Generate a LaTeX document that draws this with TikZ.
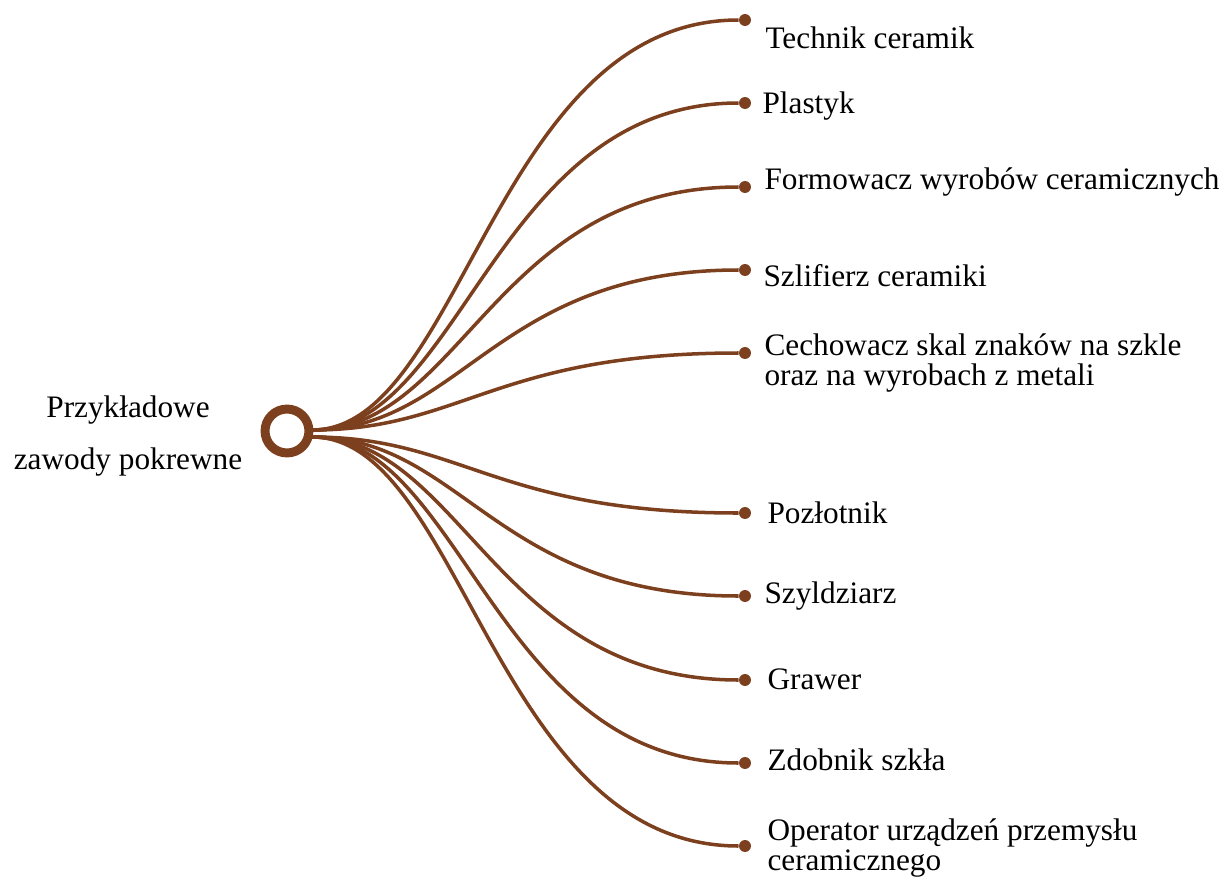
\documentclass[tikz,border=0pt]{standalone}
\usepackage{fontspec}
\setmainfont{Liberation Serif}
\usepackage{xcolor}
\definecolor{clay}{RGB}{125,64,30}
\usetikzlibrary{positioning}

\begin{document}
\begin{tikzpicture}[x=0.02cm,y=-0.02cm,semithick,
        font=\fontsize{17.8}{17.6}\selectfont]
        \tikzstyle{branch}=[draw=clay,line width=2pt]
        \tikzstyle{dot}=[circle,fill=clay,inner sep=0pt,minimum size=6.8pt]
        \tikzstyle{hub}=[circle,draw=clay,line width=5.1pt,inner sep=0pt,minimum size=25pt]
        \tikzstyle{job}=[anchor=west,inner sep=0pt,align=left,text=black]

        \useasboundingbox (0,0) rectangle (1226,882);

        \node[hub] (H) at (287,431) {};
        \node[align=center,inner sep=0pt] (T) at (128,436)
            {Przykładowe\\[12.4pt]zawody pokrewne};
        \coordinate (U) at (312,430);
        \coordinate (L) at (312,437);

        \node[dot] (A) at (745,20) {};
        \node[dot] (B) at (745,103) {};
        \node[dot] (C) at (745,187) {};
        \node[dot] (D) at (745,270) {};
        \node[dot] (E) at (745,353) {};
        \node[dot] (F) at (745,513) {};
        \node[dot] (G) at (745,596) {};
        \node[dot] (I) at (745,680) {};
        \node[dot] (J) at (745,763) {};
        \node[dot] (K) at (745,846) {};

        \node[job] (a) at (765,38) {Technik ceramik};
        \node[job] (b) at (762,106) {Plastyk};
        \node[job] (c) at (764,182) {Formowacz wyrobów ceramicznych};
        \node[job] (d) at (763,276) {Szlifierz ceramiki};
        \node[job] (e) at (764,363) {Cechowacz skal znaków na szkle\\oraz na wyrobach z metali};
        \node[job] (f) at (767,513) {Pozłotnik};
        \node[job] (g) at (764,596) {Szyldziarz};
        \node[job] (i) at (767,679) {Grawer};
        \node[job] (j) at (767,760) {Zdobnik szkła};
        \node[job] (k) at (767,848) {Operator urządzeń przemysłu\\ceramicznego};

        \path[branch] (U) .. controls +(150,0) and +(-250,0) .. (A);
        \path[branch] (U) .. controls +(150,0) and +(-250,0) .. (B);
        \path[branch] (U) .. controls +(150,0) and +(-250,0) .. (C);
        \path[branch] (U) .. controls +(150,0) and +(-250,0) .. (D);
        \path[branch] (U) .. controls +(150,0) and +(-250,0) .. (E);
        \path[branch] (L) .. controls +(150,0) and +(-250,0) .. (F);
        \path[branch] (L) .. controls +(150,0) and +(-250,0) .. (G);
        \path[branch] (L) .. controls +(150,0) and +(-250,0) .. (I);
        \path[branch] (L) .. controls +(150,0) and +(-250,0) .. (J);
        \path[branch] (L) .. controls +(150,0) and +(-250,0) .. (K);
    \end{tikzpicture}
\end{document}
